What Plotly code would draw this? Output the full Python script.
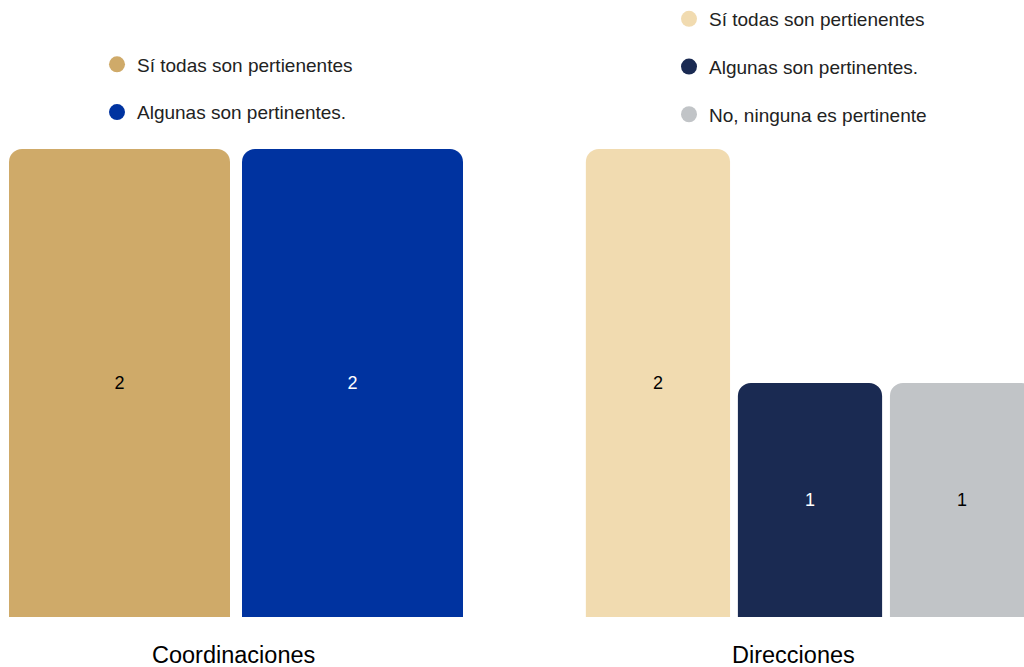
import plotly.graph_objects as go

# ---- data ----
groups = ["Coordinaciones", "Direcciones"]
coord_series = ["Sí todas son pertienentes", "Algunas son pertinentes."]
coord_values = [2, 2]
coord_colors = ["#CFAA69", "#0033A0"]
coord_text_colors = ["#000000", "#FFFFFF"]

dir_series = ["Sí todas son pertienentes", "Algunas son pertinentes.", "No, ninguna es pertinente"]
dir_values = [2, 1, 1]
dir_colors = ["#F1DBB0", "#1A2A52", "#C1C4C7"]
dir_text_colors = ["#000000", "#FFFFFF", "#000000"]

FONT = "Liberation Sans, Arial, sans-serif"

W, H = 1024, 667


def px(xp):  # pixel x -> paper x
    return xp / W


def py(yp):  # pixel y (from top) -> paper y
    return 1 - yp / H


fig = go.Figure()

for name, val, col, tcol in zip(coord_series, coord_values, coord_colors, coord_text_colors):
    fig.add_trace(go.Bar(
        x=[groups[0]], y=[val], name=name, marker=dict(color=col, line=dict(width=0)),
        text=[val], textposition="inside", insidetextanchor="middle", textangle=0,
        textfont=dict(color=tcol, size=18, family=FONT),
        xaxis="x", yaxis="y", showlegend=False, hoverinfo="skip"))
for name, val, col, tcol in zip(dir_series, dir_values, dir_colors, dir_text_colors):
    fig.add_trace(go.Bar(
        x=[groups[1]], y=[val], name=name, marker=dict(color=col, line=dict(width=0)),
        text=[val], textposition="inside", insidetextanchor="middle", textangle=0,
        textfont=dict(color=tcol, size=18, family=FONT),
        xaxis="x2", yaxis="y2", showlegend=False, hoverinfo="skip"))

for i, (name, col) in enumerate(zip(coord_series, coord_colors)):
    fig.add_trace(go.Scatter(x=[None], y=[None], mode="markers", name=name,
                             marker=dict(color=col, size=16, symbol="circle"),
                             legend="legend", legendgroup=f"c{i}", xaxis="x", yaxis="y"))
for i, (name, col) in enumerate(zip(dir_series, dir_colors)):
    fig.add_trace(go.Scatter(x=[None], y=[None], mode="markers", name=name,
                             marker=dict(color=col, size=16, symbol="circle"),
                             legend="legend2", legendgroup=f"d{i}", xaxis="x2", yaxis="y2"))

ydom = [py(617), py(149)]
axis_common = dict(showgrid=False, zeroline=False, showline=False, showticklabels=False, ticks="")

legend_common = dict(font=dict(size=19, family=FONT, color="#222222"), traceorder="grouped",
                     tracegroupgap=20, bgcolor="rgba(0,0,0,0)", xanchor="left", yanchor="top",
                     itemclick=False, itemdoubleclick=False)

fig.update_layout(
    width=W, height=H, margin=dict(l=0, r=0, t=0, b=0),
    paper_bgcolor="white", plot_bgcolor="white",
    barmode="group", bargap=0.0127, bargroupgap=0.0515, barcornerradius=13,
    font=dict(family=FONT),
    xaxis=dict(domain=[0, px(472)], range=[-0.5, 0.5], **axis_common),
    yaxis=dict(domain=ydom, range=[0, 2], **axis_common),
    xaxis2=dict(domain=[px(579), 1], range=[-0.5, 0.4632], anchor="y2", **axis_common),
    yaxis2=dict(domain=ydom, range=[0, 2], anchor="x2", **axis_common),
    legend=dict(x=px(97), y=py(45.5), **legend_common),
    legend2=dict(x=px(669), y=1, **legend_common),
    annotations=[
        dict(text=groups[0], x=px(233.5), y=py(655), xref="paper", yref="paper",
             showarrow=False, font=dict(size=23.5, family=FONT, color="#000000"),
             xanchor="center", yanchor="middle"),
        dict(text=groups[1], x=px(793.5), y=py(655), xref="paper", yref="paper",
             showarrow=False, font=dict(size=23.5, family=FONT, color="#000000"),
             xanchor="center", yanchor="middle"),
    ],
)

fig.write_html("out.html", config={"displayModeBar": False},
               post_script="document.body.style.margin='0';document.body.style.overflow='hidden';")
